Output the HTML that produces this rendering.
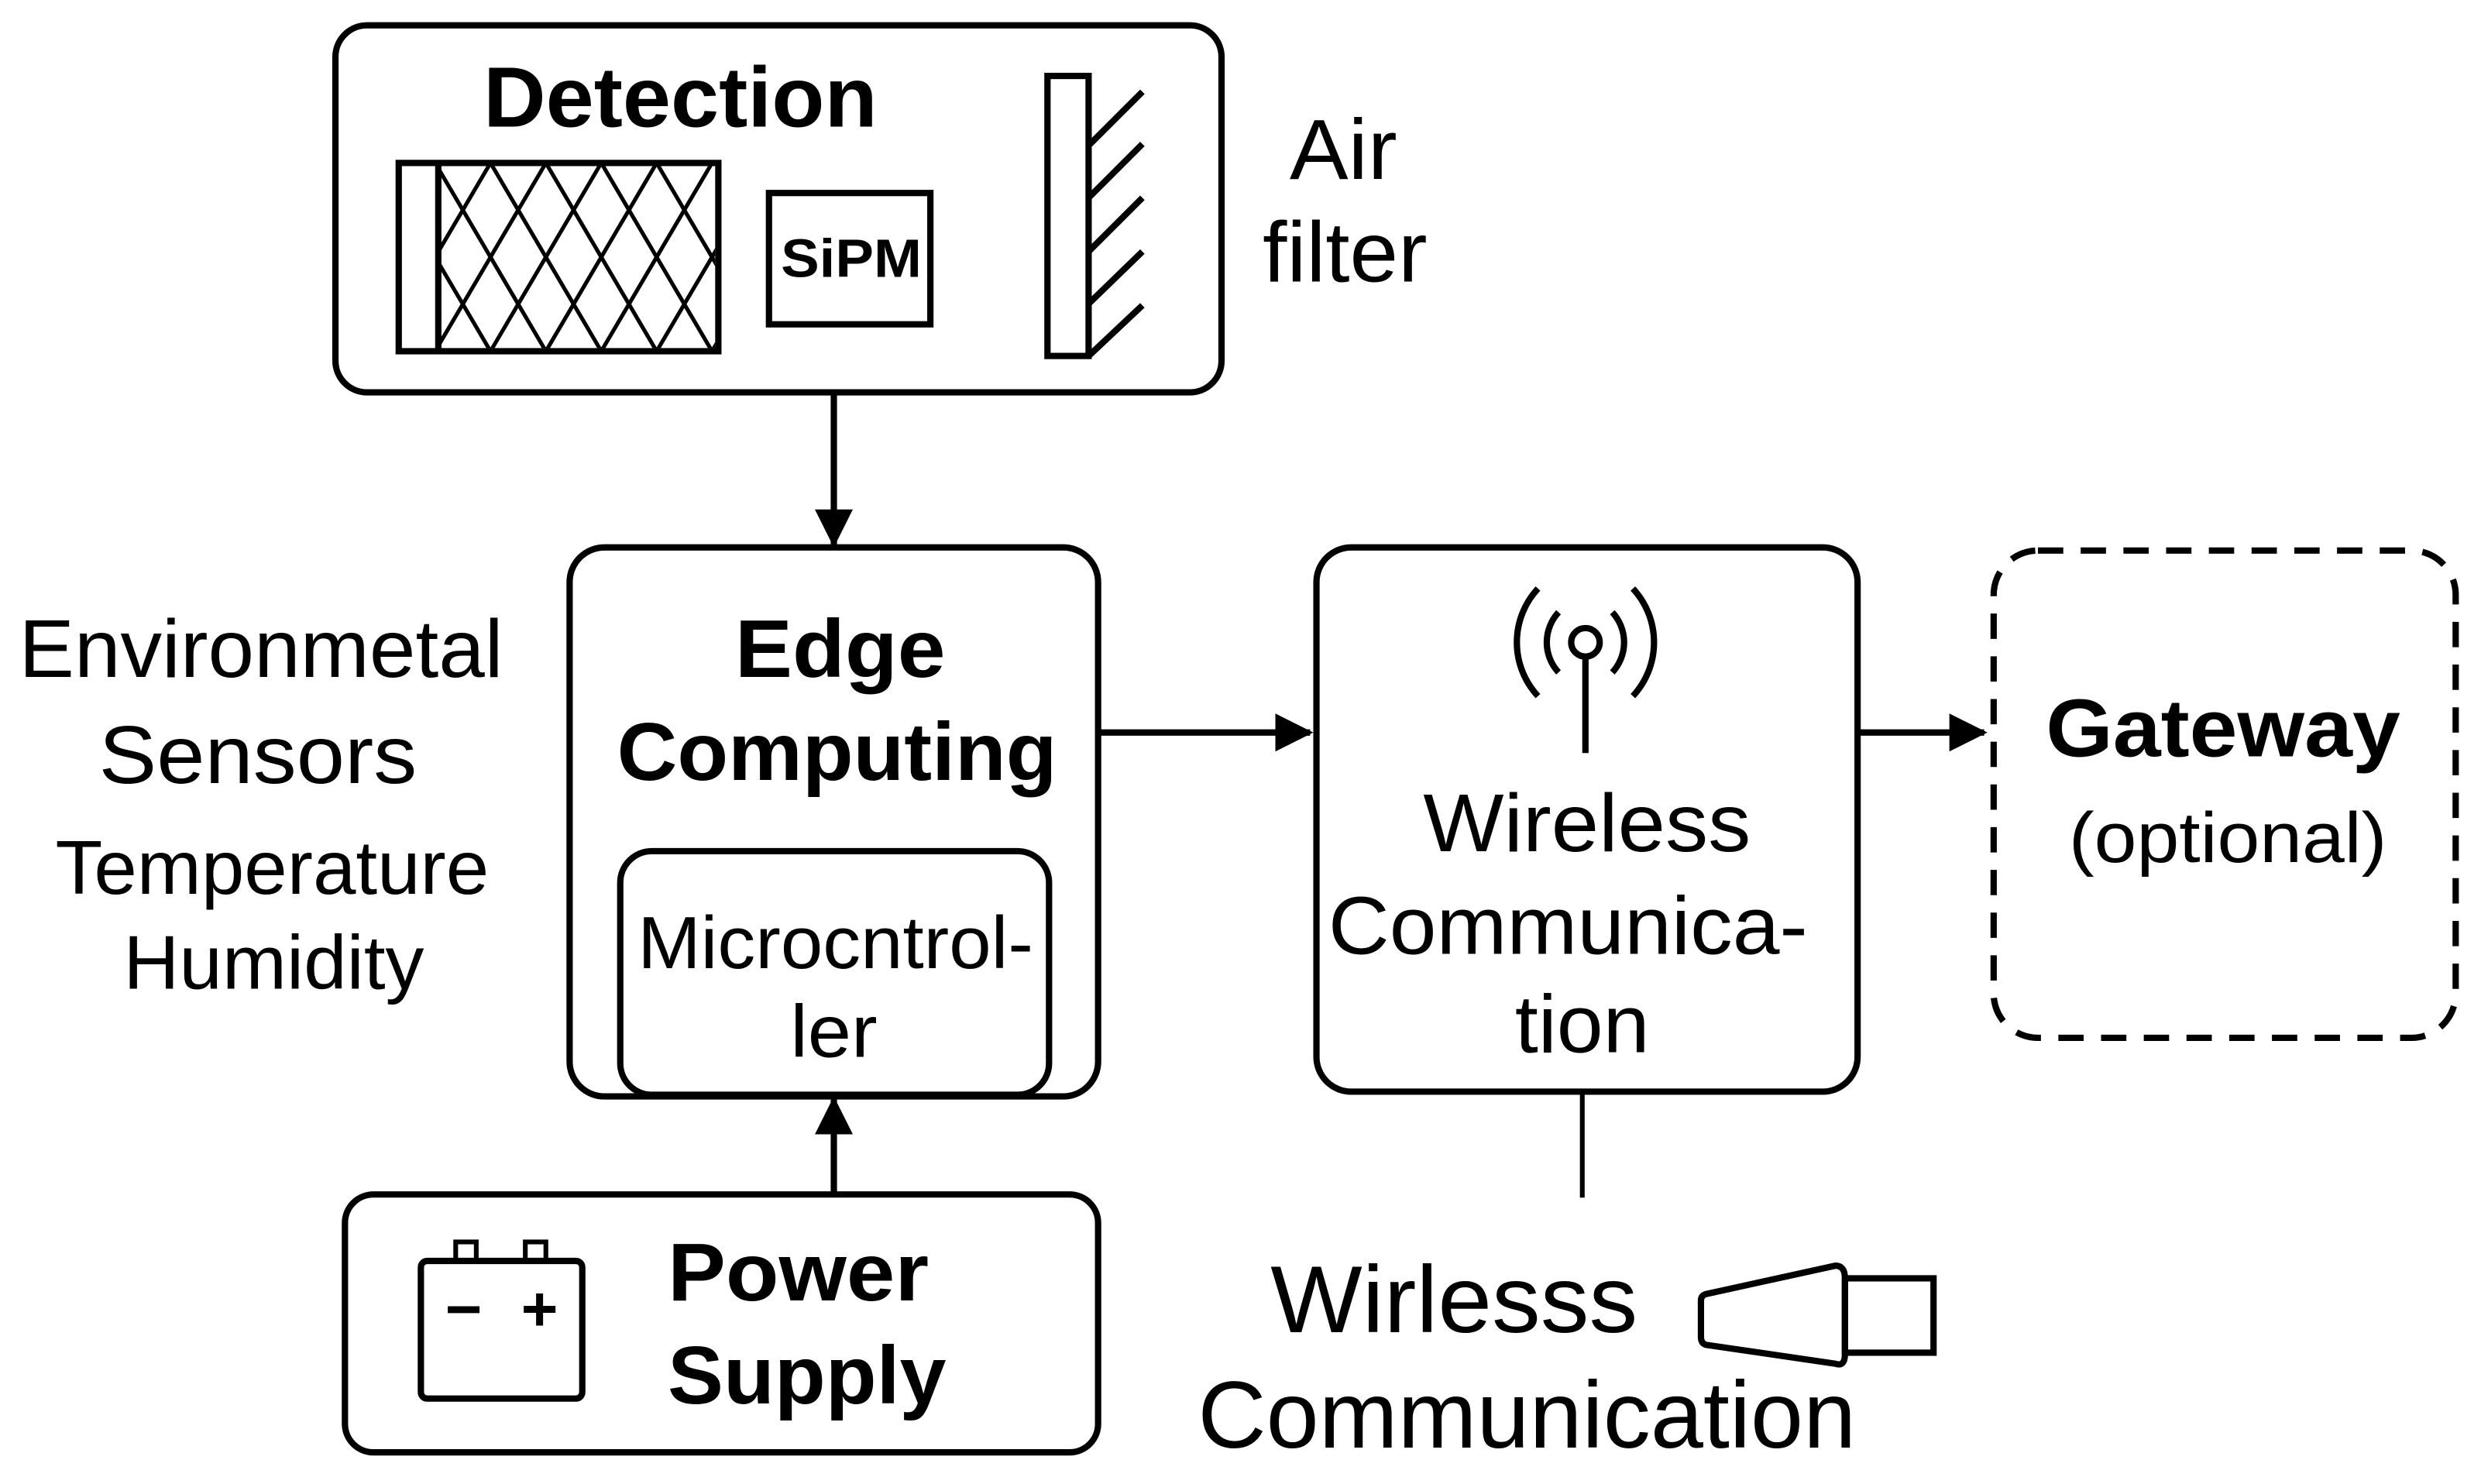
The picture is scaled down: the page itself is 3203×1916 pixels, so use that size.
<!DOCTYPE html>
<html><head><meta charset="utf-8"><style>
html,body{margin:0;padding:0;background:#fff;}
svg{display:block;}
text{font-family:"Liberation Sans",Arial,sans-serif;fill:#000;}
</style></head><body>
<svg width="3203" height="1916" viewBox="0 0 1568 938" preserveAspectRatio="none" xmlns="http://www.w3.org/2000/svg">
<defs>
<marker id="ah2" viewBox="0 0 12 12" markerWidth="24" markerHeight="24" refX="11" refY="6" orient="auto" markerUnits="userSpaceOnUse">
<path d="M0,0 L12,6 L0,12 Z" fill="#000"/>
</marker>
<clipPath id="fc"><rect x="278" y="105" width="174" height="115"/></clipPath>
</defs>
<g fill="none" stroke="#000" stroke-width="4">
<rect x="212" y="16" width="560" height="232" rx="20"/>
<rect x="252" y="103" width="202" height="119"/>
<line x1="277" y1="103" x2="277" y2="222"/>
<g clip-path="url(#fc)" stroke-width="2.5">
<line x1="240" y1="222" x2="310" y2="103"/><line x1="275" y1="222" x2="345" y2="103"/>
<line x1="310" y1="222" x2="380" y2="103"/><line x1="345" y1="222" x2="415" y2="103"/>
<line x1="380" y1="222" x2="450" y2="103"/><line x1="415" y1="222" x2="485" y2="103"/>
<line x1="450" y1="222" x2="520" y2="103"/>
<line x1="240" y1="103" x2="310" y2="222"/><line x1="275" y1="103" x2="345" y2="222"/>
<line x1="310" y1="103" x2="380" y2="222"/><line x1="345" y1="103" x2="415" y2="222"/>
<line x1="380" y1="103" x2="450" y2="222"/><line x1="415" y1="103" x2="485" y2="222"/>
<line x1="205" y1="103" x2="275" y2="222"/>
</g>
<rect x="486" y="122" width="102" height="83"/>
<rect x="662" y="48" width="26" height="177"/>
<line x1="688" y1="92" x2="722" y2="58"/>
<line x1="688" y1="125" x2="722" y2="91"/>
<line x1="688" y1="159" x2="722" y2="125"/>
<line x1="688" y1="192" x2="722" y2="159"/>
<line x1="688" y1="225" x2="722" y2="193"/>
<rect x="360" y="346" width="334" height="347" rx="22"/>
<rect x="392" y="538" width="271" height="154" rx="20"/>
<rect x="218" y="755" width="476" height="163" rx="18"/>
<rect x="266" y="797" width="102" height="87" rx="4"/>
<rect x="288" y="785" width="13" height="12" stroke-width="3"/>
<rect x="332" y="785" width="13" height="12" stroke-width="3"/>
<rect x="832" y="346" width="342" height="344" rx="22"/>
<circle cx="1002" cy="406" r="9"/>
<line x1="1002" y1="415" x2="1002" y2="476"/>
<path d="M985,387 A28,28 0 0,0 985,425"/>
<path d="M1019,387 A28,28 0 0,1 1019,425"/>
<path d="M972,372 A50,50 0 0,0 972,440"/>
<path d="M1032,372 A50,50 0 0,1 1032,440"/>
<line x1="1000" y1="690" x2="1000" y2="757" stroke-width="3"/>
<rect x="1260" y="348" width="292" height="308" rx="28" stroke-dasharray="16,11"/>
<path d="M1078,818 L1160,800 Q1166,800 1166,808 L1166,856 Q1166,864 1160,862 L1078,850 Q1075,849 1075,845 L1075,822 Q1075,819 1078,818 Z"/>
<rect x="1166" y="808" width="56" height="47"/>
<line x1="527" y1="248" x2="527" y2="344" marker-end="url(#ah2)"/>
<line x1="527" y1="755" x2="527" y2="695" marker-end="url(#ah2)"/>
<line x1="694" y1="463" x2="828" y2="463" marker-end="url(#ah2)"/>
<line x1="1174" y1="463" x2="1254" y2="463" marker-end="url(#ah2)"/>
</g>
<g text-anchor="middle" lengthAdjust="spacingAndGlyphs">
<text x="430" y="80" font-size="54" font-weight="bold" textLength="249" lengthAdjust="spacingAndGlyphs">Detection</text>
<text x="538" y="175" font-size="34" font-weight="bold" textLength="89" lengthAdjust="spacingAndGlyphs">SiPM</text>
<text x="849" y="113" font-size="54" textLength="68" lengthAdjust="spacingAndGlyphs">Air</text>
<text x="850" y="178" font-size="54" textLength="104" lengthAdjust="spacingAndGlyphs">filter</text>
<text x="531" y="428" font-size="52" font-weight="bold" textLength="133" lengthAdjust="spacingAndGlyphs">Edge</text>
<text x="529" y="493" font-size="52" font-weight="bold" textLength="278" lengthAdjust="spacingAndGlyphs">Computing</text>
<text x="528" y="612" font-size="47" textLength="250" lengthAdjust="spacingAndGlyphs">Microcntrol-</text>
<text x="527" y="668" font-size="47" textLength="55" lengthAdjust="spacingAndGlyphs">ler</text>
<text x="165" y="428" font-size="52" textLength="306" lengthAdjust="spacingAndGlyphs">Environmetal</text>
<text x="163" y="495" font-size="52" textLength="201" lengthAdjust="spacingAndGlyphs">Sensors</text>
<text x="172" y="565" font-size="48" textLength="274" lengthAdjust="spacingAndGlyphs">Temperature</text>
<text x="173" y="625" font-size="48" textLength="190" lengthAdjust="spacingAndGlyphs">Humidity</text>
<text x="1003" y="538" font-size="52" textLength="207" lengthAdjust="spacingAndGlyphs">Wireless</text>
<text x="991" y="603" font-size="52" textLength="303" lengthAdjust="spacingAndGlyphs">Communica-</text>
<text x="1000" y="665" font-size="52" textLength="85" lengthAdjust="spacingAndGlyphs">tion</text>
<text x="1405" y="478" font-size="52" font-weight="bold" textLength="224" lengthAdjust="spacingAndGlyphs">Gateway</text>
<text x="1408" y="545" font-size="45" textLength="201" lengthAdjust="spacingAndGlyphs">(optional)</text>
<text x="919" y="842" font-size="60" textLength="232" lengthAdjust="spacingAndGlyphs">Wirlesss</text>
<text x="965" y="915" font-size="60" textLength="416" lengthAdjust="spacingAndGlyphs">Communication</text>
<text x="293" y="841" font-size="40" font-weight="bold">−</text>
<text x="341" y="841" font-size="40" font-weight="bold">+</text>
</g>
<text x="422" y="822" font-size="52" font-weight="bold" textLength="165" lengthAdjust="spacingAndGlyphs">Power</text>
<text x="422" y="887" font-size="52" font-weight="bold" textLength="176" lengthAdjust="spacingAndGlyphs">Supply</text>
</svg>
</body></html>
